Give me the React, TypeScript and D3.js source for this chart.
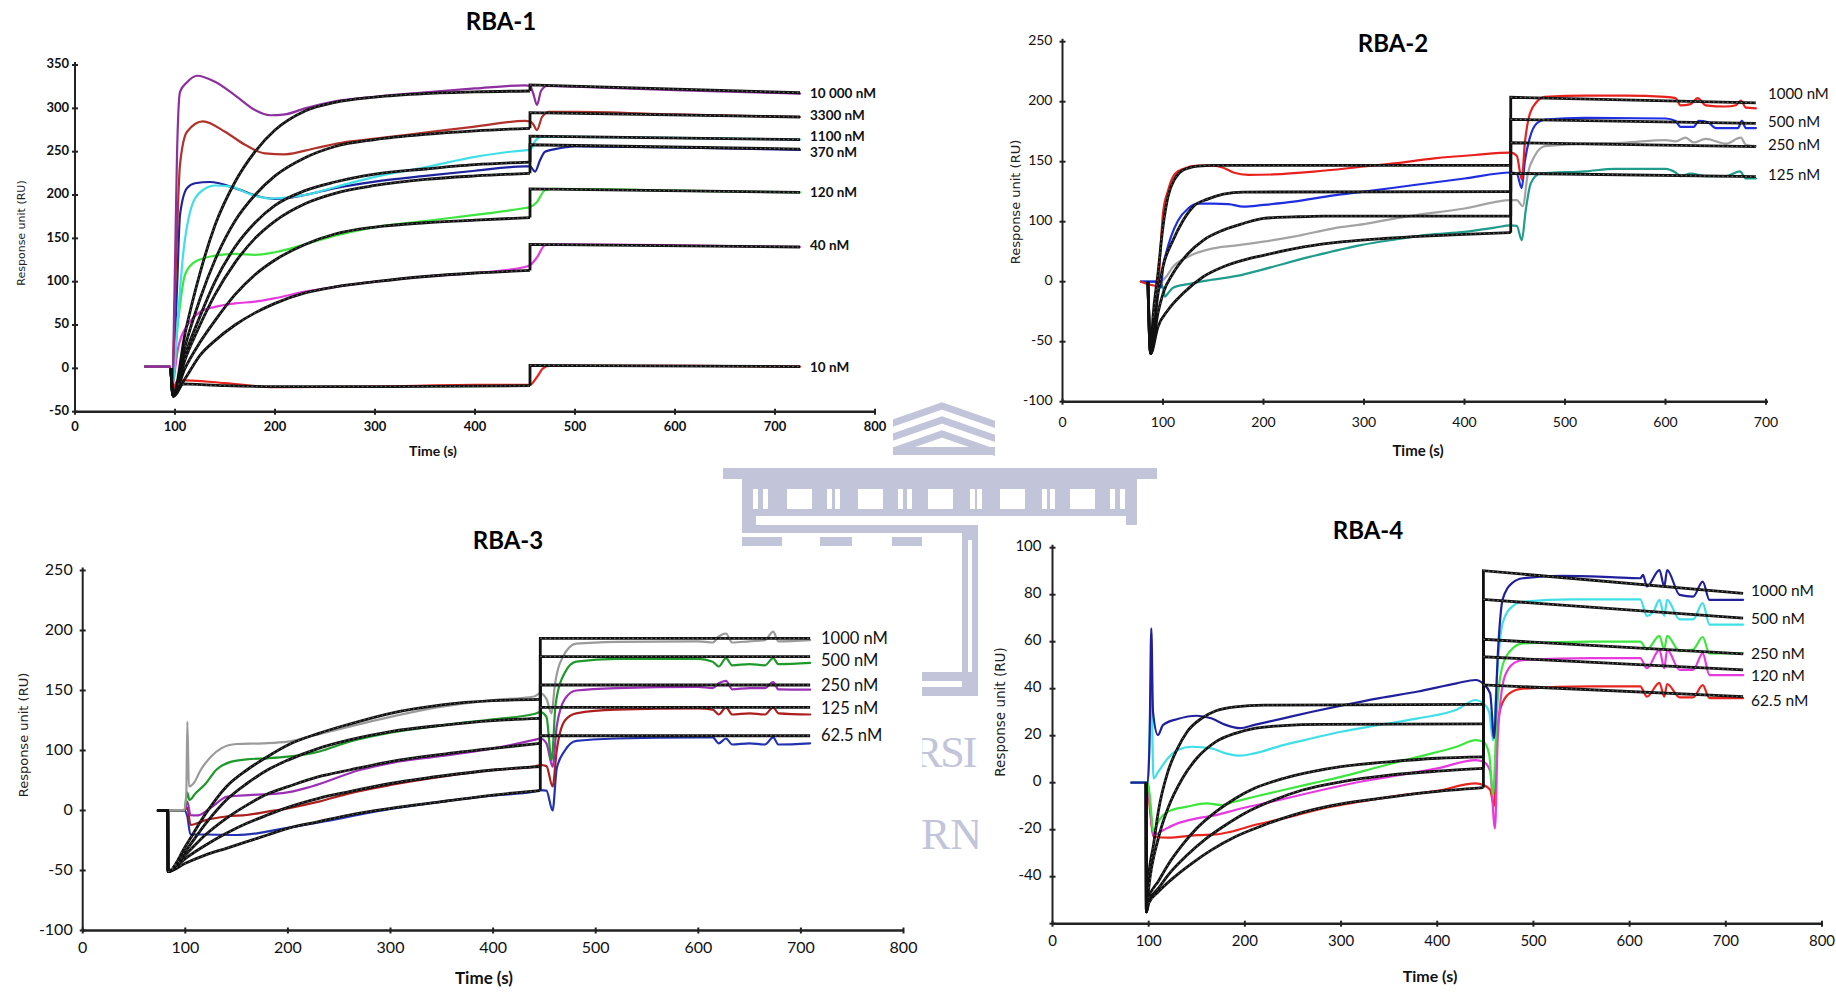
import React from 'react';
import * as d3 from 'd3';

type Pt = [number, number];

// ---------------- RBA-1 ----------------
const rba1Concentrations = ['10 000 nM', '3300 nM', '1100 nM', '370 nM', '120 nM', '40 nM', '10 nM'];
const rba1Colors = ['#8e2f9f', '#b0322b', '#3fdfe8', '#1d239d', '#3ce63c', '#e63ae0', '#e8251f'];
const rba1LabelValues = [316.5, 290, 266, 247.5, 202, 140, 0.3];
const rba1XTicks = [0, 100, 200, 300, 400, 500, 600, 700, 800];
const rba1YTicks = [-50, 0, 50, 100, 150, 200, 250, 300, 350];

const rba1Obs10000: Pt[] = [[70, 2], [95, 2], [97, -20], [100, 120], [102, 246], [105, 319], [112, 330], [122, 337.6], [140, 330.6], [160, 315], [180, 298], [195, 292], [210, 293], [230, 300], [260, 308], [300, 313.4], [350, 318.4], [400, 323], [450, 326.6], [455, 326], [458, 318], [462, 304], [466, 320], [472, 326], [500, 325], [600, 321], [725, 317]];
const rba1Obs3300: Pt[] = [[70, 2], [95, 2], [97, -20], [101, 120], [105, 235], [112, 273], [128, 285], [150, 273], [170, 258], [190, 248], [210, 247], [240, 254], [270, 261], [300, 265], [350, 272], [400, 279], [450, 285.5], [455, 285], [458, 282], [462, 275], [467, 290], [474, 296], [500, 296], [600, 293], [725, 290]];
const rba1Obs1100: Pt[] = [[70, 2], [95, 2], [97, -20], [103, 60], [108, 130], [115, 180], [125, 203], [140, 211], [155, 210], [175, 201], [195, 196], [230, 200], [260, 209], [300, 221], [350, 232], [400, 244], [450, 251.6], [455, 252], [460, 262], [466, 267], [500, 267], [600, 266], [725, 264]];
const rba1Obs370: Pt[] = [[70, 2], [95, 2], [97, -20], [102, 92], [105, 177], [112, 208], [120, 213.6], [135, 215], [160, 208], [185, 198], [200, 195.6], [230, 200], [260, 208], [300, 215.5], [350, 222], [400, 228], [450, 233], [455, 233], [460, 227], [465, 240], [470, 250], [480, 253], [500, 256], [600, 255], [725, 252]];
const rba1Obs120: Pt[] = [[70, 2], [95, 2], [97, -20], [103, 53], [110, 108], [120, 123], [140, 130], [160, 132], [180, 131], [200, 134], [230, 143], [260, 153], [300, 163], [350, 170], [400, 177], [450, 185], [455, 186], [462, 192], [470, 205.5], [480, 207], [600, 205], [725, 203]];
const rba1Obs40: Pt[] = [[70, 2], [95, 2], [97, -20], [103, 23], [115, 54], [125, 65], [140, 71], [160, 75], [180, 77], [200, 81], [230, 88.5], [260, 94], [300, 100], [350, 106], [400, 110], [450, 117], [455, 119], [462, 128], [470, 142], [480, 143], [600, 142], [725, 140]];
const rba1Obs10: Pt[] = [[70, 2], [95, 2], [97, -25], [103, -13.5], [150, -17], [200, -21.8], [300, -21], [400, -19], [455, -19], [462, -10], [468, 0], [475, 3], [600, 3], [725, 2]];

const rba1Fit10000: Pt[] = [[96, 0], [98, -32], [110, 40], [125, 110], [140, 165], [160, 215], [180, 250], [200, 275], [230, 297], [260, 307], [300, 313], [350, 317], [400, 319], [455, 320]];
const rba1Fit3300: Pt[] = [[96, 0], [98, -32], [110, 25], [125, 80], [140, 125], [160, 170], [180, 200], [200, 222], [230, 243], [260, 256], [300, 264], [350, 270], [400, 274], [455, 277]];
const rba1Fit1100: Pt[] = [[96, 0], [98, -32], [110, 15], [125, 60], [140, 100], [160, 140], [180, 168], [200, 188], [230, 205], [260, 215], [300, 224], [350, 230], [400, 235], [455, 238]];
const rba1Fit370: Pt[] = [[96, 0], [98, -32], [110, 10], [125, 50], [140, 85], [160, 122], [180, 150], [200, 170], [230, 190], [260, 202], [300, 211], [350, 218], [400, 222], [455, 225]];
const rba1Fit120: Pt[] = [[96, 0], [98, -32], [110, 0], [125, 30], [140, 55], [160, 85], [180, 108], [200, 125], [230, 143], [260, 155], [300, 163], [350, 168], [400, 171], [455, 174]];
const rba1Fit40: Pt[] = [[96, 0], [98, -32], [110, -12], [125, 15], [140, 32], [160, 50], [180, 64], [200, 75], [230, 87], [260, 94], [300, 100], [350, 106], [400, 110], [455, 113]];
const rba1Fit10: Pt[] = [[96, 0], [98, -32], [103, -18], [150, -20], [200, -21], [300, -21], [455, -20]];
const rba1Dissoc: Pt[][] = [[[455, 327], [725, 318]], [[455, 295], [725, 290]], [[455, 268], [725, 264]], [[455, 258], [725, 253]], [[455, 207], [725, 203]], [[455, 143], [725, 140]], [[455, 3.5], [725, 2]]];

// ---------------- RBA-2 ----------------
const rba2Concentrations = ['1000 nM', '500 nM', '250 nM', '125 nM'];
const rba2Colors = ['#e8201e', '#1f2fe0', '#a3a3a3', '#1f9c8c'];
const rba2LabelValues = [205.6, 182, 163, 137.5];
const rba2XTicks = [0, 100, 200, 300, 400, 500, 600, 700];
const rba2YTicks = [-100, -50, 0, 100, 150, 200, 250];

const rba2Obs1000: Pt[] = [[78, 0], [85, -2], [95, -3.6], [98, 69], [100, 107], [105, 126], [112, 140], [120, 144], [135, 146.7], [150, 146.7], [160, 145], [170, 141], [185, 139], [210, 139.4], [250, 141.7], [300, 146], [330, 148.6], [370, 152.8], [410, 155.6], [446, 157.5], [452, 155], [457, 135], [460, 165], [465, 190], [472, 200], [480, 204], [520, 205], [560, 205], [600, 204], [610, 203], [615, 197], [625, 198], [632, 203], [640, 197], [660, 196], [670, 197], [675, 201], [680, 195], [690, 194.5]];
const rba2Obs500: Pt[] = [[78, 0], [95, 0], [98, -5], [100, 25], [103, 47], [108, 75], [115, 101], [125, 111], [135, 115], [150, 115], [165, 114.7], [180, 112.5], [200, 114], [230, 116.7], [270, 122], [300, 125], [350, 130.6], [400, 136], [446, 141], [452, 140], [457, 128], [460, 150], [465, 170], [472, 182], [480, 185], [520, 186.5], [600, 186], [610, 184], [615, 179], [628, 179], [633, 184], [642, 183], [650, 178], [672, 178], [676, 184], [680, 178], [690, 178]];
const rba2Obs250: Pt[] = [[78, 0], [95, 0], [100, 3], [103, 8], [110, 25], [125, 41.7], [150, 55.6], [175, 61], [200, 66.7], [230, 75], [270, 89], [300, 96], [345, 104.7], [400, 111], [446, 118], [452, 118], [458, 113], [463, 140], [470, 155], [480, 163], [520, 165], [560, 166], [600, 168], [610, 167], [620, 170], [628, 166], [640, 169], [660, 165], [675, 170], [680, 164], [690, 163]];
const rba2Obs125: Pt[] = [[78, 0], [95, 0], [100, -5], [102, -12.5], [105, -9.7], [110, -5], [125, -2], [147, 2.8], [175, 10], [197, 19.4], [247, 41.7], [297, 61], [330, 70], [363, 78], [400, 83], [430, 90], [446, 94], [452, 93], [457, 69], [461, 110], [466, 132], [475, 140], [520, 142], [550, 144], [600, 144], [610, 141], [615, 138], [625, 140], [640, 138], [660, 138], [674, 142], [680, 136], [690, 136]];

const rba2Fit1000: Pt[] = [[85, 0], [87.7, -60], [90, -30], [95, 14], [100, 92], [105, 121], [112, 136], [120, 143], [135, 146.4], [150, 147], [446, 147]];
const rba2Fit500: Pt[] = [[85, 0], [87.7, -60], [95, -10], [100, 25], [110, 69], [120, 101], [130, 112.5], [145, 119], [160, 123], [180, 124.7], [446, 125]];
const rba2Fit250: Pt[] = [[85, 0], [87.7, -60], [95, -26], [100, -10], [110, 14], [125, 47], [140, 69], [160, 86], [180, 97], [200, 102.8], [230, 104], [260, 104.7], [446, 104.7]];
const rba2Fit125: Pt[] = [[85, 0], [87.7, -60], [95, -37.5], [105, -23.6], [120, -9.7], [140, 8.3], [160, 25], [180, 36], [200, 44], [240, 58], [280, 66.7], [320, 72], [360, 76], [400, 79], [446, 81.7]];
const rba2Dissoc: Pt[][] = [[[446, 203.7], [690, 199]], [[446, 185.3], [690, 182]], [[446, 165.8], [690, 162.5]], [[446, 140.3], [690, 137.5]]];

// ---------------- RBA-3 ----------------
const rba3Concentrations = ['1000 nM', '500 nM', '250 nM', '125 nM', '62.5  nM'];
const rba3Colors = ['#9a9a9a', '#1f9a2a', '#9b2fb5', '#ad1e1e', '#2232b0'];
const rba3LabelValues = [192, 174, 153, 133.8, 111.5];
const rba3XTicks = [0, 100, 200, 300, 400, 500, 600, 700, 800];
const rba3YTicks = [-100, -50, 0, 100, 150, 200, 250];

const rba3Obs1000: Pt[] = [[73, 0], [99, 1], [101, 30], [102, 124], [103.5, 40], [108, 45], [115, 67.5], [125, 89.7], [135, 101.8], [150, 105.4], [175, 106], [200, 107.4], [220, 111.5], [240, 115.7], [270, 122], [300, 128], [350, 136.5], [400, 142], [440, 145], [446, 147.6], [452, 143], [457, 131], [460, 153], [468, 178], [481, 189], [520, 190.5], [600, 191], [614, 190], [620, 195], [627, 197.5], [633, 190], [650, 191], [665, 192], [673, 199], [678, 191], [709, 192]];
const rba3Obs500: Pt[] = [[73, 0], [99, 0], [102, 30], [104, 17.5], [110, 28.6], [120, 45], [130, 67.5], [145, 81.4], [160, 85.3], [180, 87], [200, 89.7], [230, 98], [260, 107.4], [300, 114.9], [350, 121], [400, 126], [440, 130.4], [446, 132], [452, 128], [457, 84], [461, 139], [470, 165], [481, 174], [520, 176.4], [600, 176.4], [614, 174], [620, 170], [627, 177], [633, 171], [650, 172], [665, 171], [673, 177], [678, 172], [709, 173]];
const rba3Obs250: Pt[] = [[73, 0], [99, 0], [102, 15], [105, -3.8], [112, -4], [125, 5], [141, 23], [165, 26], [195, 29], [223, 40], [270, 67.5], [300, 79], [350, 91], [400, 101.8], [440, 108.8], [446, 110], [452, 106], [458, 73], [462, 120], [470, 143], [481, 150], [520, 152], [600, 153], [614, 152], [620, 156], [627, 158], [633, 151], [650, 152], [665, 152], [673, 157], [678, 151], [709, 150.7]];
const rba3Obs125: Pt[] = [[73, 0], [99, 0], [102, 5], [105, -12], [120, -8], [140, -5], [160, -3.75], [180, -1], [200, 3.6], [230, 14.7], [260, 28.6], [300, 42.5], [350, 56.4], [400, 67.5], [440, 73], [446, 75.8], [452, 74], [458, 40], [462, 100], [470, 125], [481, 131], [520, 134], [600, 135], [614, 134], [620, 130], [627, 136], [633, 130], [650, 131], [665, 130], [673, 136], [678, 131], [709, 130]];
const rba3Obs62: Pt[] = [[73, 0], [99, 0], [102, -5], [105, -20], [120, -20], [150, -20.4], [170, -19], [190, -16], [230, -9.9], [300, 2.5], [350, 14.7], [400, 25], [440, 31.4], [446, 34], [452, 33], [458, 0], [462, 70], [470, 100], [481, 108], [520, 110], [600, 111], [614, 111], [620, 106], [627, 110], [633, 105], [650, 106], [665, 105], [673, 111], [678, 105], [709, 106]];

const rba3Fit1000: Pt[] = [[73, 0], [82.9, 0], [83.2, -51], [100, -30], [120, -2.4], [140, 39.7], [160, 67.5], [180, 89.7], [200, 104.6], [230, 114.3], [260, 122], [300, 131], [350, 138], [400, 141.5], [446, 142.6]];
const rba3Fit500: Pt[] = [[73, 0], [82.9, 0], [83.2, -51], [100, -34], [120, -10.7], [140, 17.5], [160, 45], [180, 67.5], [200, 84], [230, 101.8], [260, 108.8], [300, 115.7], [350, 121], [400, 124.9], [446, 126.8]];
const rba3Fit250: Pt[] = [[73, 0], [82.9, 0], [83.2, -51], [100, -37], [120, -20], [140, -6.5], [160, 9], [180, 27.5], [200, 39.7], [230, 56.4], [260, 67.5], [300, 81.4], [350, 93.6], [400, 101.8], [446, 106]];
const rba3Fit125: Pt[] = [[73, 0], [82.9, 0], [83.2, -51], [100, -40], [120, -28.8], [140, -19], [160, -10.7], [180, -3.75], [200, 5.3], [230, 20.3], [260, 31.4], [300, 45], [350, 57.5], [400, 67.5], [446, 73]];
const rba3Fit62: Pt[] = [[73, 0], [82.9, 0], [83.2, -51], [100, -44], [120, -37], [140, -31.5], [160, -26], [180, -20.4], [200, -14.9], [230, -9.3], [260, -3.75], [300, 3.6], [350, 14.7], [400, 25.8], [446, 33]];
const rba3Dissoc: Pt[][] = [[[446, 193.5], [709, 193.5]], [[446, 178.2], [709, 178.2]], [[446, 154.6], [709, 154.6]], [[446, 136], [709, 136]], [[446, 112.3], [709, 112.3]]];

// ---------------- RBA-4 ----------------
const rba4Concentrations = ['1000 nM', '500 nM', '250 nM', '120 nM', '62.5 nM'];
const rba4Colors = ['#20209c', '#3fdfe8', '#3ce63c', '#e63ae0', '#e8251f'];
const rba4LabelValues = [81.3, 69.2, 54.3, 45, 34.5];
const rba4XTicks = [0, 100, 200, 300, 400, 500, 600, 700, 800];
const rba4YTicks = [-60, -40, -20, 0, 20, 40, 60, 80, 100];
const rba4YTickLabels = [-40, -20, 0, 20, 40, 60, 80, 100];

const rba4Obs1000: Pt[] = [[82, 0], [99, 0], [101, 20], [102.7, 65.7], [104.5, 30], [109.6, 20.3], [115, 24.6], [130, 27.1], [150, 28.5], [165, 27.4], [180, 24.6], [195, 23.2], [210, 24.6], [240, 27.4], [270, 30.2], [300, 32.8], [340, 36], [380, 38.8], [420, 42.3], [440, 43.7], [448, 42], [455, 38], [459, 19], [463, 55], [468, 78], [478, 85], [489, 87], [530, 88], [580, 87.5], [611, 87], [614, 88.4], [618, 83.5], [631, 90.5], [636, 83.5], [639, 90.5], [652, 79.9], [666, 79.2], [676, 85.6], [683, 77.8], [718, 77.8]];
const rba4Obs500: Pt[] = [[82, 0], [99, 0], [101, 20], [102.5, 45], [105, 1.8], [110, 4.7], [120, 10.4], [130, 13.9], [145, 15.3], [165, 14.6], [180, 12.5], [195, 11.5], [210, 12.5], [240, 16], [270, 18.9], [300, 21.7], [340, 24.6], [380, 27.4], [420, 31], [440, 35.2], [448, 33.8], [454, 30], [458, 18], [462, 45], [468, 68], [478, 75], [489, 77], [540, 78], [611, 78], [618, 71], [625, 73], [631, 77.8], [636, 71], [639, 77.8], [652, 69.5], [666, 69.5], [676, 76.4], [683, 67.3], [718, 67.3]];
const rba4Obs250: Pt[] = [[82, 0], [99, 0], [101, -5], [105, -20.9], [110, -16.6], [120, -12.3], [140, -10.2], [160, -8.8], [175, -9.5], [190, -8], [210, -6], [240, -3.1], [270, -0.3], [300, 2.5], [340, 6.8], [380, 11], [420, 15.3], [440, 18.1], [448, 17.4], [454, 12], [458, -5], [462, 30], [468, 50], [478, 57], [489, 59.3], [560, 60], [611, 60], [618, 56.7], [631, 62.5], [636, 56.7], [639, 62.5], [652, 56], [666, 56.7], [676, 62], [683, 55], [718, 55]];
const rba4Obs120: Pt[] = [[82, 0], [99, 0], [101, -8], [105, -22.3], [115, -20.2], [130, -17.3], [150, -15.2], [170, -13.8], [190, -11.6], [220, -8.8], [250, -6], [280, -3.1], [320, 0.4], [360, 3.2], [400, 6.1], [440, 9.6], [448, 8.9], [455, 5], [460, -19.5], [463, 20], [470, 45], [480, 51], [489, 52.2], [560, 53], [611, 53], [618, 48.7], [631, 56.5], [636, 48.7], [639, 56.5], [652, 48], [666, 48], [676, 55], [683, 45.8], [718, 45.8]];
const rba4Obs62: Pt[] = [[82, 0], [99, 0], [101, -10], [105, -23], [120, -23.4], [150, -22.3], [170, -22], [185, -20.9], [210, -18], [240, -15.2], [280, -11], [320, -8.1], [360, -5.5], [400, -3.5], [440, -0.3], [448, -1], [455, -3], [459, -10], [462, 20], [466, 32], [475, 38], [489, 40], [560, 41], [611, 41], [618, 36.6], [631, 42.5], [636, 36.6], [639, 42], [652, 36.3], [666, 36.3], [676, 41.5], [683, 36], [718, 36]];

const rba4Fit1000: Pt[] = [[97.3, 0], [97.6, -55], [100, -40], [105, -26.5], [110, -12.3], [120, 4.7], [130, 14.6], [140, 21.7], [155, 27.4], [170, 30.6], [190, 32.3], [220, 33], [448, 33.3]];
const rba4Fit500: Pt[] = [[97.3, 0], [97.6, -55], [100, -45], [110, -23.7], [120, -10.9], [135, 1.8], [150, 10.4], [170, 17.5], [190, 21], [210, 23.1], [240, 24.3], [280, 24.8], [448, 25]];
const rba4Fit250: Pt[] = [[97.3, 0], [97.6, -55], [100, -49], [110, -42], [120, -35], [135, -26.5], [150, -19.4], [170, -12.3], [190, -6.7], [210, -2.4], [240, 1.8], [270, 4.7], [300, 6.8], [350, 8.9], [400, 10.4], [448, 11]];
const rba4Fit120: Pt[] = [[97.3, 0], [97.6, -55], [100, -50.6], [110, -45], [120, -39.4], [140, -30.8], [160, -23.7], [180, -18], [200, -13], [230, -7.4], [260, -3.1], [300, 0.4], [350, 3.2], [400, 4.9], [448, 6.1]];
const rba4Fit62: Pt[] = [[97.3, 0], [97.6, -55], [100, -51.3], [110, -46.4], [125, -40.7], [145, -34.3], [165, -28.7], [190, -23], [220, -18], [250, -13.8], [290, -9.8], [340, -6.7], [390, -4.1], [448, -2.1]];
const rba4Dissoc: Pt[][] = [[[448, 90.2], [718, 80.6]], [[448, 78], [718, 70]], [[448, 61], [718, 54.8]], [[448, 53.6], [718, 48]], [[448, 41.6], [718, 36.6]]];

// ---------------- layout ----------------
const FONT = "Lato, 'Liberation Sans', Arial, sans-serif";
const YFONT = "'DejaVu Sans', Verdana, sans-serif";
const WM = '#c2c5da';

interface PanelSpec {
  title: string;
  x: d3.ScaleLinear<number, number>;
  y: d3.ScaleLinear<number, number>;
  xTicks: number[];
  yTicks: number[];
  yTickLabels: number[];
  observed: Pt[][];
  colors: string[];
  fitAssoc: Pt[][];
  fitDissoc: Pt[][];
  concLabels: string[];
  labelValues: number[];
  labelX: number;
  titlePos: [number, number];
  timePos: [number, number];
  ruPos: [number, number];
  tickFont: number;
  tickWeight: number;
  xLabelGap: number;
  yLabelGap: number;
  concFont: number;
  concWeight: number;
  timeFont: number;
  ruFont: number;
  xAxisEnd: number;
}

const panels: PanelSpec[] = [
  {
    title: 'RBA-1',
    x: d3.scaleLinear().domain([0, 800]).range([75, 875]),
    y: d3.scaleLinear().domain([-50, 350]).range([411.7, 65]),
    xTicks: rba1XTicks, yTicks: rba1YTicks, yTickLabels: rba1YTicks,
    observed: [rba1Obs10000, rba1Obs3300, rba1Obs1100, rba1Obs370, rba1Obs120, rba1Obs40, rba1Obs10],
    colors: rba1Colors,
    fitAssoc: [rba1Fit10000, rba1Fit3300, rba1Fit1100, rba1Fit370, rba1Fit120, rba1Fit40, rba1Fit10],
    fitDissoc: rba1Dissoc,
    concLabels: rba1Concentrations, labelValues: rba1LabelValues, labelX: 810,
    titlePos: [501, 24], timePos: [433, 452], ruPos: [22, 233],
    tickFont: 13, tickWeight: 700, xLabelGap: 16, yLabelGap: 6,
    concFont: 13.5, concWeight: 700, timeFont: 14, ruFont: 11, xAxisEnd: 875,
  },
  {
    title: 'RBA-2',
    x: d3.scaleLinear().domain([0, 700]).range([1062.5, 1766]),
    y: d3.scaleLinear().domain([-100, -50, 0, 100, 150, 200, 250]).range([401.7, 341.7, 281.7, 221.7, 161.7, 101.7, 41.7]),
    xTicks: rba2XTicks, yTicks: rba2YTicks, yTickLabels: rba2YTicks,
    observed: [rba2Obs1000, rba2Obs500, rba2Obs250, rba2Obs125],
    colors: rba2Colors,
    fitAssoc: [rba2Fit1000, rba2Fit500, rba2Fit250, rba2Fit125],
    fitDissoc: rba2Dissoc,
    concLabels: rba2Concentrations, labelValues: rba2LabelValues, labelX: 1768,
    titlePos: [1393, 46], timePos: [1418, 452], ruPos: [1016, 202],
    tickFont: 14, tickWeight: 400, xLabelGap: 22, yLabelGap: 10,
    concFont: 15, concWeight: 400, timeFont: 15, ruFont: 13, xAxisEnd: 1768,
  },
  {
    title: 'RBA-3',
    x: d3.scaleLinear().domain([0, 800]).range([82.7, 903.5]),
    y: d3.scaleLinear().domain([-100, -50, 0, 100, 150, 200, 250]).range([930.5, 870.5, 810.5, 750.5, 690.5, 630.5, 570.5]),
    xTicks: rba3XTicks, yTicks: rba3YTicks, yTickLabels: rba3YTicks,
    observed: [rba3Obs1000, rba3Obs500, rba3Obs250, rba3Obs125, rba3Obs62],
    colors: rba3Colors,
    fitAssoc: [rba3Fit1000, rba3Fit500, rba3Fit250, rba3Fit125, rba3Fit62],
    fitDissoc: rba3Dissoc,
    concLabels: rba3Concentrations, labelValues: rba3LabelValues, labelX: 821,
    titlePos: [508, 543], timePos: [484, 980], ruPos: [24, 735],
    tickFont: 16, tickWeight: 400, xLabelGap: 18, yLabelGap: 10,
    concFont: 16.5, concWeight: 400, timeFont: 17, ruFont: 13, xAxisEnd: 903.5,
  },
  {
    title: 'RBA-4',
    x: d3.scaleLinear().domain([0, 800]).range([1052.5, 1822]),
    y: d3.scaleLinear().domain([-60, 100]).range([923.7, 547.7]),
    xTicks: rba4XTicks, yTicks: rba4YTicks, yTickLabels: rba4YTickLabels,
    observed: [rba4Obs1000, rba4Obs500, rba4Obs250, rba4Obs120, rba4Obs62],
    colors: rba4Colors,
    fitAssoc: [rba4Fit1000, rba4Fit500, rba4Fit250, rba4Fit120, rba4Fit62],
    fitDissoc: rba4Dissoc,
    concLabels: rba4Concentrations, labelValues: rba4LabelValues, labelX: 1751,
    titlePos: [1368, 533], timePos: [1430, 978], ruPos: [1001, 712],
    tickFont: 15, tickWeight: 400, xLabelGap: 19, yLabelGap: 11,
    concFont: 15.5, concWeight: 400, timeFont: 16, ruFont: 13.5, xAxisEnd: 1822,
  },
];

function Panel({ p }: { p: PanelSpec }) {
  const { x, y } = p;
  const smooth = d3.line<Pt>().x(d => x(d[0])).y(d => y(d[1])).curve(d3.curveMonotoneX);
  const straight = d3.line<Pt>().x(d => x(d[0])).y(d => y(d[1]));
  const yDom = y.domain();
  const yMin = yDom[0];
  const yMax = yDom[yDom.length - 1];
  const axisY = y(yMin);
  const axisX = x(0);
  const order = p.observed.map((_, i) => i).reverse();
  return (
    <g>
      <text x={p.titlePos[0]} y={p.titlePos[1]} textAnchor="middle" dominantBaseline="middle"
        fontFamily={FONT} fontWeight={700} fontSize={24} fill="#000">{p.title}</text>

      {order.map(i => (
        <path key={'o' + i} d={smooth(p.observed[i]) || ''} fill="none" stroke={p.colors[i]} strokeWidth={2.2}
          strokeLinejoin="round" strokeLinecap="round" />
      ))}

      {p.fitAssoc.map((s, i) => {
        const conn: Pt[] = [s[s.length - 1], ...p.fitDissoc[i]];
        return (
          <g key={'f' + i}>
            <path d={smooth(s) || ''} fill="none" stroke="#111" strokeWidth={2.8} />
            <path d={straight(conn) || ''} fill="none" stroke="#111" strokeWidth={2.8} />
            <path d={smooth(s.slice(2)) || ''} fill="none" stroke="#fff" strokeWidth={0.8}
              strokeDasharray="1.6 3" opacity={0.45} />
            <path d={straight(p.fitDissoc[i]) || ''} fill="none" stroke="#fff" strokeWidth={0.8}
              strokeDasharray="1.6 3" opacity={0.55} />
          </g>
        );
      })}

      {/* axes */}
      <line x1={axisX} x2={p.xAxisEnd} y1={axisY} y2={axisY} stroke="#222" strokeWidth={2.6} />
      <line x1={axisX} x2={axisX} y1={axisY} y2={y(yMax) - 3} stroke="#222" strokeWidth={2} />
      {p.xTicks.map(t => (
        <g key={'xt' + t}>
          <line x1={x(t)} x2={x(t)} y1={axisY - 3} y2={axisY + 3} stroke="#222" strokeWidth={2} />
          <text x={x(t)} y={axisY + p.xLabelGap} textAnchor="middle" dominantBaseline="middle"
            fontFamily={FONT} fontSize={p.tickFont} fontWeight={p.tickWeight} fill="#111">{t}</text>
        </g>
      ))}
      {p.yTicks.map(v => (
        <line key={'yt' + v} x1={axisX - 3} x2={axisX + 3} y1={y(v)} y2={y(v)} stroke="#222" strokeWidth={2} />
      ))}
      {p.yTickLabels.map(v => (
        <text key={'yl' + v} x={axisX - p.yLabelGap} y={y(v)} textAnchor="end" dominantBaseline="middle"
          fontFamily={FONT} fontSize={p.tickFont} fontWeight={p.tickWeight} fill="#111">{v}</text>
      ))}

      <text x={p.timePos[0]} y={p.timePos[1]} textAnchor="middle" dominantBaseline="middle"
        fontFamily={FONT} fontSize={p.timeFont} fontWeight={700} fill="#111">Time (s)</text>
      <text transform={`translate(${p.ruPos[0]},${p.ruPos[1]}) rotate(-90)`} textAnchor="middle"
        dominantBaseline="middle" fontFamily={YFONT} fontSize={p.ruFont} fill="#222">Response unit (RU)</text>

      {p.concLabels.map((c, i) => (
        <text key={'c' + i} x={p.labelX} y={y(p.labelValues[i])} dominantBaseline="middle"
          fontFamily={FONT} fontSize={p.concFont} fontWeight={p.concWeight} fill="#111">{c}</text>
      ))}
    </g>
  );
}

function Watermark() {
  const windowsBig = [787, 858, 928, 1000, 1070];
  const slits = [753, 763, 827, 835, 898, 907, 970, 977, 1042, 1050, 1110, 1120];
  const chevrons = [0, 14, 28];
  return (
    <g>
      {chevrons.map(o => (
        <polyline key={o} points={`850,${438 + o} 942,${406 + o} 1040,${440 + o}`} fill="none"
          stroke={WM} strokeWidth={7} />
      ))}
      <rect x={850} y={447} width={190} height={8} fill={WM} />
      <rect x={723} y={468} width={434} height={11} fill={WM} />
      <rect x={742} y={479} width={395} height={34} fill={WM} />
      {windowsBig.map(wx => <rect key={'w' + wx} x={wx} y={489} width={25} height={20} fill="#fff" />)}
      {slits.map(sx => <rect key={'s' + sx} x={sx} y={489} width={5} height={20} fill="#fff" />)}
      <rect x={742} y={513} width={395} height={20} fill={WM} />
      <rect x={756} y={516} width={370} height={9} fill="#fff" />
      <rect x={742} y={537} width={40} height={9} fill={WM} />
      <rect x={820} y={537} width={32} height={9} fill={WM} />
      <rect x={892} y={537} width={30} height={9} fill={WM} />
      <rect x={962} y={527} width={17} height={166} fill={WM} />
      <rect x={968} y={540} width={4} height={140} fill="#fff" />
      <rect x={915} y={672} width={70} height={9} fill={WM} />
      <rect x={915} y={687} width={70} height={9} fill={WM} />
      <text x={913} y={767} fontFamily="'Liberation Serif', 'DejaVu Serif', serif" fontSize={44}
        letterSpacing={-2} fill={WM}>RSI</text>
      <text x={921} y={849} fontFamily="'Liberation Serif', 'DejaVu Serif', serif" fontSize={44}
        fill={WM}>RN</text>
    </g>
  );
}

export default function App() {
  return (
    <svg width={1836} height={992} style={{ position: 'absolute', left: 0, top: 0, background: '#fff' }}>
      <rect x={0} y={0} width={1836} height={992} fill="#fff" />
      <Watermark />
      {/* panel backgrounds */}
      <rect x={0} y={0} width={893} height={468} fill="#fff" />
      <rect x={995} y={0} width={841} height={468} fill="#fff" />
      <rect x={0} y={553} width={922} height={439} fill="#fff" />
      <rect x={978} y={525} width={858} height={467} fill="#fff" />
      {panels.map(p => <Panel key={p.title} p={p} />)}
    </svg>
  );
}
